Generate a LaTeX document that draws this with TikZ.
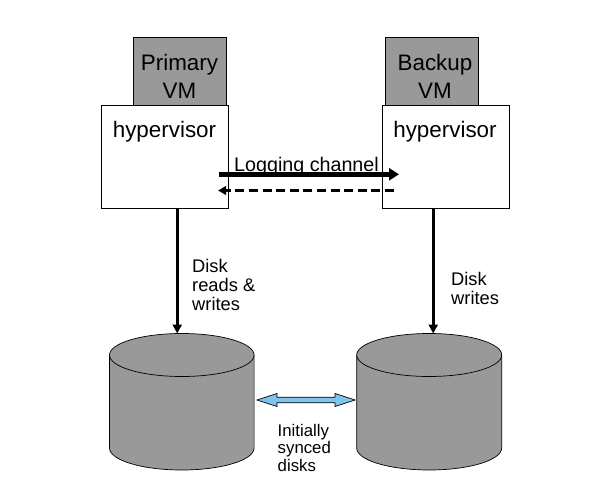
\documentclass[tikz,border=0pt]{standalone}
\usepackage{fontspec}
\setmainfont{Liberation Sans}
\definecolor{diskgray}{HTML}{999999}
\definecolor{syncblue}{HTML}{7FC4EC}
\newcommand{\bigfont}{\fontsize{22.4}{28}\selectfont}
\newcommand{\midfont}{\fontsize{19.7}{24}\selectfont}
\newcommand{\smallfont}{\fontsize{18.3}{19}\selectfont}
\newcommand{\tinyfont}{\fontsize{16.8}{17.5}\selectfont}
\usetikzlibrary{arrows.meta}
\tikzset{
  vmbox/.style={draw=black,fill=diskgray,line width=0.7pt,minimum width=93.5pt,minimum height=68pt,inner sep=0pt},
  hvbox/.style={draw=black,fill=white,line width=0.7pt,minimum width=127pt,minimum height=102.5pt,inner sep=0pt},
  biglabel/.style={align=center,inner sep=0pt,font=\bigfont},
  smalllabel/.style={align=left,anchor=north west,inner sep=0pt,font=\smallfont},
  diskside/.style={draw=black,fill=diskgray,line width=0.7pt},
  thin arrow/.style={line width=2.6pt,-{Triangle[length=9pt,width=9pt]}}
}
\begin{document}
\begin{tikzpicture}[x=1pt,y=-1pt]
\useasboundingbox (0,0) rectangle (612,502);
% VMs
\node[vmbox] (pvm) at (180,71) {};
\node[vmbox] (bvm) at (431.7,71) {};
\node[biglabel] (pvmt) at (179.5,76.5) {Primary\\VM};
\node[biglabel] (bvmt) at (435,76.5) {Backup\\VM};
% hypervisors
\node[hvbox] (hl) at (165.2,156.7) {};
\node[hvbox] (hr) at (446,156.7) {};
\node[biglabel] (hlt) at (164.5,131.5) {hypervisor};
\node[biglabel] (hrt) at (445,131.5) {hypervisor};
% disks
\path[diskside] (109.5,355) -- (109.5,448) arc[start angle=180,end angle=360,x radius=72.3pt,y radius=22pt] -- (254.1,355) arc[start angle=0,end angle=180,x radius=72.3pt,y radius=21.5pt] -- cycle;
\path[diskside] (109.5,355) arc[start angle=180,end angle=360,x radius=72.3pt,y radius=21.5pt];
\path[diskside] (356.7,355) -- (356.7,448) arc[start angle=180,end angle=360,x radius=72.5pt,y radius=22pt] -- (501.7,355) arc[start angle=0,end angle=180,x radius=72.5pt,y radius=21.5pt] -- cycle;
\path[diskside] (356.7,355) arc[start angle=180,end angle=360,x radius=72.5pt,y radius=21.5pt];
\coordinate (dl) at (177.2,333.5);
\coordinate (dr) at (433.2,333.5);
\coordinate (hlb) at (177.2,208);
\coordinate (hrb) at (433.2,208);
% vertical connectors
\draw[thin arrow] (hlb) -- (dl);
\draw[thin arrow] (hrb) -- (dr);
% logging channel
\node[inner sep=0pt,font=\midfont] (log) at (306.5,166) {Logging channel};
\coordinate (la) at (219,174.3);
\coordinate (lb) at (399,174.3);
\coordinate (ra) at (394,190.5);
\coordinate (rb) at (218,190.5);
\draw[line width=4.6pt,-{Triangle[length=10pt,width=12pt]}] (la) -- (lb);
\draw[line width=3.8pt,dash pattern=on 9pt off 4.6pt,-{Triangle[length=8pt,width=8.5pt]}] (ra) -- (rb);
% labels
\node[smalllabel] (t1) at (192,259) {Disk\\reads \&\\writes};
\node[smalllabel] (t2) at (451,272) {Disk\\writes};
\node[align=left,anchor=north west,inner sep=0pt,font=\tinyfont] (t3) at (277.5,424) {Initially\\synced\\disks};
% sync arrow
\coordinate (sl) at (257,400);
\coordinate (sr) at (355,400);
\draw[fill=syncblue,draw=black,line width=0.7pt] (sl) -- ++(20,-6.5) -- ++(0,3.7) -- ++(58,0) -- ++(0,-3.7) -- (sr) -- ++(-20,6.5) -- ++(0,-3.7) -- ++(-58,0) -- ++(0,3.7) -- cycle;
\end{tikzpicture}
\end{document}
